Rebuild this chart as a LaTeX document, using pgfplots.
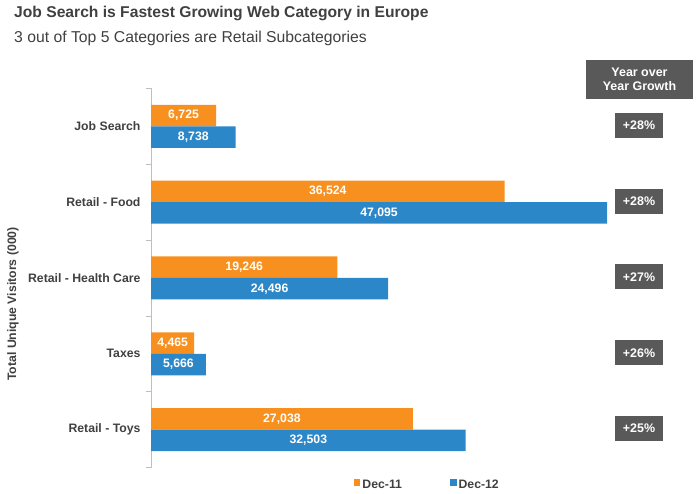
\documentclass[border=0pt]{standalone}
\usepackage{fontspec}
\setmainfont{Liberation Sans}
\usepackage{pgfplots}
\usepackage{pgfplotstable}
\pgfplotsset{compat=1.18}
\definecolor{orng}{HTML}{F7901E}
\definecolor{blu}{HTML}{2C87C8}
\definecolor{boxgray}{HTML}{595959}
\definecolor{txtgray}{HTML}{404040}
\definecolor{axgray}{HTML}{BFBFBF}

% visitors in thousands, growth in percent
\pgfplotstableread{
idx dec11 dec12 growth
0   6725  8738  28
1   36524 47095 28
2   19246 24496 27
3   4465  5666  26
4   27038 32503 25
}\visitors

\newcommand{\lblfont}{\bfseries\fontsize{12.3}{14}\selectfont}
% half the bar length: 228bp per 47095 units = 318.47sp per unit
\newcommand{\halfbar}[1]{-\the\dimexpr #1sp*31847/100\relax}

\begin{document}
\begin{tikzpicture}[x=1bp,y=1bp]
\path[use as bounding box] (0,0) rectangle (700,494);

\node[anchor=base west, inner sep=0, text=txtgray,
      font=\bfseries\fontsize{15.7}{18}\selectfont] at (14,476.5) {Job Search is Fastest Growing Web Category in Europe};
\node[anchor=base west, inner sep=0, text=txtgray,
      font=\fontsize{15.8}{19}\selectfont] at (14,451.5) {3 out of Top 5 Categories are Retail Subcategories};

\node[fill=boxgray, text=white, align=center, minimum width=107bp, minimum height=39bp, inner sep=0,
      font=\bfseries\fontsize{12.5}{14.5}\selectfont] at (639.5,414.5) {Year over\\Year Growth};

\node[rotate=90, text=txtgray, font=\bfseries\fontsize{12.3}{14}\selectfont] at (13,190) {Total Unique Visitors (000)};

\begin{axis}[
    at={(151bp,26.5bp)}, anchor=south west,
    width=456bp, height=379bp, scale only axis,
    xmin=0, xmax=47095,
    ymin=-0.5, ymax=4.5, y dir=reverse,
    axis x line=none, axis y line*=left,
    axis line style={draw=axgray, -, line width=0.8pt},
    ytick={0,...,4},
    yticklabels={Job Search, Retail - Food, Retail - Health Care, Taxes, Retail - Toys},
    major tick length=0,
    minor ytick={-0.5,0.5,...,4.5},
    minor tick length=5bp,
    tick align=outside,
    minor tick style={draw=axgray, line width=0.8pt},
    yticklabel style={font=\lblfont, text=txtgray, xshift=-7bp},
    clip=false,
    /pgf/number format/assume math mode=true,
    legend style={at={(0.606,-0.046)}, anchor=center, draw=none, fill=none,
        legend columns=2, font=\lblfont, text=txtgray,
        nodes={inner xsep=2bp},
        /tikz/every even column/.append style={column sep=46bp}},
    legend image code/.code={\fill[#1] (0bp,-1bp) rectangle (6.6bp,5.6bp);},
    bar width=21.5bp,
    every node near coord/.append style={font=\lblfont, text=white, anchor=center},
]
\addplot[xbar, bar shift=10.75bp, fill=orng, draw=none,
    visualization depends on={rawx \as \rawv},
    point meta=x,
    nodes near coords={\pgfmathprintnumber[fixed, precision=0, 1000 sep={,}]{\pgfplotspointmeta}},
    nodes near coords style={xshift={\halfbar{\rawv}}, yshift=10.75bp}]
    table[x=dec11, y=idx]{\visitors};
\addlegendentry{Dec-11}
\addplot[xbar, bar shift=-10.75bp, fill=blu, draw=none,
    visualization depends on={rawx \as \rawv},
    point meta=x,
    nodes near coords={\pgfmathprintnumber[fixed, precision=0, 1000 sep={,}]{\pgfplotspointmeta}},
    nodes near coords style={xshift={\halfbar{\rawv}}, yshift=-10.75bp}]
    table[x=dec12, y=idx]{\visitors};
\addlegendentry{Dec-12}
\addplot[only marks, mark=none, forget plot,
    point meta=explicit,
    nodes near coords={+\pgfmathprintnumber{\pgfplotspointmeta}\%},
    nodes near coords style={fill=boxgray, font=\bfseries\fontsize{12.5}{14}\selectfont,
        minimum width=48bp, minimum height=25bp, inner sep=0, yshift=1bp}]
    table[x expr=50400, y=idx, meta=growth]{\visitors};
\end{axis}
\end{tikzpicture}
\end{document}
